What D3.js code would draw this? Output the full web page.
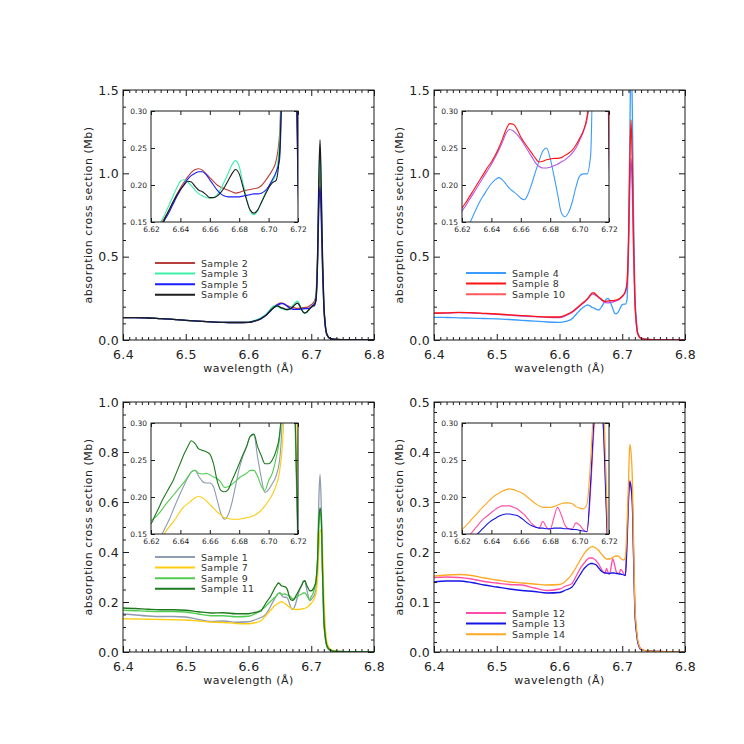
<!DOCTYPE html>
<html>
<head>
<meta charset="utf-8">
<script src="https://cdn.jsdelivr.net/npm/d3@7"></script>
<style>
  body { margin: 0; background: #fff; }
  svg { display: block; }
</style>
</head>
<body>
<div id="chart"></div>
<script>
// ---------------- data ----------------
var wavelength = [6.40, 6.42, 6.44, 6.46, 6.48, 6.50, 6.52, 6.54, 6.56, 6.58, 6.60, 6.61,
  6.6200, 6.6225, 6.6250, 6.6275, 6.6300, 6.6325, 6.6350, 6.6375, 6.6400, 6.6425, 6.6450, 6.6475,
  6.6500, 6.6525, 6.6550, 6.6575, 6.6600, 6.6625, 6.6650, 6.6675, 6.6700, 6.6725, 6.6750, 6.6775,
  6.6800, 6.6825, 6.6850, 6.6875, 6.6900, 6.6925, 6.6950, 6.6975, 6.7000, 6.7025, 6.7050, 6.7075,
  6.7100, 6.7120, 6.7140, 6.7160, 6.7180, 6.7200, 6.7225, 6.7250, 6.7300, 6.7400, 6.7600, 6.8000];

// panel 1
var sample2 = [0.134, 0.134, 0.132, 0.128, 0.124, 0.118, 0.113, 0.109, 0.106, 0.105, 0.106, 0.115,
  0.130, 0.137, 0.143, 0.150, 0.158, 0.167, 0.177, 0.187, 0.196, 0.204, 0.211, 0.217,
  0.221, 0.222, 0.220, 0.215, 0.210, 0.205, 0.200, 0.197, 0.195, 0.193, 0.191, 0.189,
  0.190, 0.192, 0.193, 0.194, 0.195, 0.196, 0.199, 0.205, 0.212, 0.220, 0.232, 0.270,
  0.50, 0.85, 1.02, 0.80, 0.45, 0.21, 0.08, 0.030, 0.010, 0.003, 0.001, 0.000];
var sample3 = [0.134, 0.134, 0.132, 0.128, 0.124, 0.118, 0.113, 0.109, 0.106, 0.105, 0.107, 0.118,
  0.133, 0.140, 0.146, 0.153, 0.163, 0.174, 0.185, 0.196, 0.205, 0.207, 0.204, 0.199,
  0.193, 0.188, 0.185, 0.183, 0.182, 0.183, 0.187, 0.195, 0.205, 0.216, 0.227, 0.233,
  0.225, 0.203, 0.182, 0.165, 0.160, 0.165, 0.176, 0.188, 0.198, 0.205, 0.215, 0.260,
  0.50, 0.92, 1.15, 0.88, 0.48, 0.22, 0.085, 0.033, 0.010, 0.003, 0.001, 0.000];
var sample5 = [0.134, 0.134, 0.132, 0.128, 0.124, 0.118, 0.113, 0.109, 0.106, 0.105, 0.106, 0.114,
  0.128, 0.134, 0.140, 0.147, 0.155, 0.164, 0.174, 0.184, 0.193, 0.201, 0.208, 0.213,
  0.216, 0.218, 0.218, 0.214, 0.207, 0.200, 0.193, 0.188, 0.185, 0.184, 0.184, 0.184,
  0.184, 0.185, 0.186, 0.187, 0.188, 0.188, 0.189, 0.192, 0.198, 0.207, 0.217, 0.235,
  0.45, 0.78, 0.92, 0.72, 0.42, 0.20, 0.075, 0.030, 0.010, 0.003, 0.001, 0.000];
var sample6 = [0.134, 0.134, 0.132, 0.128, 0.124, 0.118, 0.113, 0.109, 0.106, 0.105, 0.106, 0.114,
  0.128, 0.135, 0.141, 0.147, 0.157, 0.167, 0.177, 0.186, 0.194, 0.200, 0.205, 0.204,
  0.198, 0.193, 0.191, 0.187, 0.183, 0.183, 0.185, 0.190, 0.197, 0.206, 0.215, 0.221,
  0.215, 0.198, 0.180, 0.166, 0.162, 0.166, 0.176, 0.186, 0.196, 0.203, 0.206, 0.245,
  0.48, 0.95, 1.20, 0.90, 0.50, 0.23, 0.09, 0.035, 0.010, 0.003, 0.001, 0.000];

// panel 2
var sample4 = [0.136, 0.135, 0.133, 0.131, 0.129, 0.127, 0.123, 0.118, 0.113, 0.108, 0.106, 0.112,
  0.128, 0.137, 0.147, 0.158, 0.169, 0.179, 0.187, 0.195, 0.202, 0.207, 0.210, 0.207,
  0.201, 0.195, 0.191, 0.187, 0.182, 0.180, 0.188, 0.202, 0.218, 0.233, 0.246, 0.250,
  0.236, 0.213, 0.188, 0.163, 0.157, 0.163, 0.177, 0.197, 0.212, 0.215, 0.215, 0.240,
  0.60, 1.20, 1.70, 1.40, 0.75, 0.30, 0.12, 0.040, 0.012, 0.004, 0.001, 0.000];
var sample8 = [0.162, 0.163, 0.166, 0.164, 0.160, 0.156, 0.151, 0.146, 0.142, 0.138, 0.138, 0.150,
  0.169, 0.176, 0.184, 0.192, 0.200, 0.208, 0.216, 0.224, 0.231, 0.240, 0.250, 0.262,
  0.275, 0.283, 0.282, 0.275, 0.265, 0.257, 0.250, 0.243, 0.236, 0.231, 0.232, 0.234,
  0.235, 0.236, 0.236, 0.237, 0.240, 0.243, 0.247, 0.254, 0.263, 0.273, 0.292, 0.340,
  0.60, 1.05, 1.32, 1.05, 0.60, 0.26, 0.10, 0.035, 0.010, 0.003, 0.001, 0.000];
var sample10 = [0.160, 0.161, 0.164, 0.162, 0.158, 0.154, 0.149, 0.144, 0.140, 0.136, 0.135, 0.146,
  0.165, 0.172, 0.180, 0.188, 0.196, 0.204, 0.212, 0.220, 0.228, 0.237, 0.247, 0.258,
  0.270, 0.275, 0.273, 0.268, 0.262, 0.254, 0.246, 0.238, 0.230, 0.225, 0.223, 0.223,
  0.224, 0.226, 0.228, 0.231, 0.234, 0.238, 0.243, 0.250, 0.260, 0.272, 0.288, 0.330,
  0.55, 0.90, 1.09, 0.90, 0.52, 0.24, 0.09, 0.033, 0.010, 0.003, 0.001, 0.000];

// panel 3
var sample1 = [0.153, 0.148, 0.144, 0.142, 0.142, 0.140, 0.130, 0.122, 0.124, 0.119, 0.121, 0.128,
  0.138, 0.141, 0.145, 0.150, 0.160, 0.170, 0.182, 0.194, 0.205, 0.216, 0.226, 0.234,
  0.236, 0.228, 0.221, 0.219, 0.219, 0.214, 0.196, 0.178, 0.170, 0.176, 0.192, 0.215,
  0.238, 0.255, 0.268, 0.282, 0.284, 0.254, 0.226, 0.206, 0.210, 0.218, 0.228, 0.250,
  0.35, 0.60, 0.71, 0.58, 0.30, 0.12, 0.05, 0.020, 0.006, 0.002, 0.001, 0.000];
var sample7 = [0.133, 0.132, 0.131, 0.130, 0.129, 0.128, 0.124, 0.120, 0.118, 0.114, 0.113, 0.117,
  0.125, 0.131, 0.138, 0.145, 0.153, 0.160, 0.166, 0.173, 0.181, 0.187, 0.191, 0.195,
  0.199, 0.201, 0.199, 0.195, 0.190, 0.185, 0.180, 0.176, 0.172, 0.171, 0.170, 0.170,
  0.170, 0.171, 0.172, 0.173, 0.175, 0.178, 0.182, 0.188, 0.195, 0.203, 0.215, 0.235,
  0.29, 0.40, 0.48, 0.49, 0.42, 0.23, 0.10, 0.040, 0.012, 0.003, 0.001, 0.000];
var sample9 = [0.167, 0.165, 0.163, 0.162, 0.162, 0.160, 0.152, 0.145, 0.145, 0.141, 0.143, 0.152,
  0.168, 0.172, 0.177, 0.183, 0.190, 0.196, 0.202, 0.208, 0.214, 0.220, 0.227, 0.234,
  0.236, 0.232, 0.231, 0.232, 0.230, 0.227, 0.225, 0.220, 0.213, 0.214, 0.217, 0.221,
  0.226, 0.229, 0.232, 0.236, 0.236, 0.228, 0.215, 0.209, 0.222, 0.232, 0.252, 0.280,
  0.36, 0.50, 0.56, 0.52, 0.32, 0.14, 0.06, 0.025, 0.008, 0.002, 0.001, 0.000];
var sample11 = [0.176, 0.174, 0.171, 0.169, 0.169, 0.167, 0.161, 0.156, 0.157, 0.153, 0.153, 0.158,
  0.164, 0.174, 0.184, 0.195, 0.204, 0.213, 0.222, 0.234, 0.246, 0.258, 0.268, 0.276,
  0.272, 0.265, 0.263, 0.261, 0.258, 0.245, 0.222, 0.209, 0.207, 0.210, 0.222, 0.233,
  0.245, 0.257, 0.268, 0.282, 0.285, 0.268, 0.256, 0.245, 0.245, 0.250, 0.262, 0.285,
  0.37, 0.52, 0.576, 0.54, 0.32, 0.14, 0.06, 0.025, 0.008, 0.002, 0.001, 0.000];

// panel 4
var sample12 = [0.149, 0.150, 0.149, 0.146, 0.141, 0.138, 0.135, 0.134, 0.128, 0.123, 0.126, 0.132,
  0.137, 0.142, 0.148, 0.154, 0.160, 0.166, 0.171, 0.175, 0.179, 0.183, 0.186, 0.188,
  0.188, 0.188, 0.186, 0.184, 0.180, 0.176, 0.170, 0.164, 0.160, 0.158, 0.167, 0.159,
  0.156, 0.172, 0.186, 0.176, 0.162, 0.157, 0.157, 0.165, 0.162, 0.156, 0.153, 0.210,
  0.30, 0.343, 0.33, 0.30, 0.20, 0.09, 0.045, 0.020, 0.006, 0.002, 0.001, 0.000];
var sample13 = [0.140, 0.142, 0.142, 0.139, 0.134, 0.130, 0.126, 0.123, 0.121, 0.118, 0.119, 0.124,
  0.130, 0.134, 0.139, 0.144, 0.149, 0.154, 0.159, 0.164, 0.168, 0.171, 0.174, 0.176,
  0.177, 0.177, 0.176, 0.175, 0.172, 0.168, 0.164, 0.161, 0.159, 0.158, 0.158, 0.157,
  0.157, 0.158, 0.158, 0.158, 0.157, 0.157, 0.156, 0.156, 0.155, 0.154, 0.153, 0.220,
  0.31, 0.34, 0.33, 0.30, 0.19, 0.085, 0.040, 0.018, 0.005, 0.002, 0.001, 0.000];
var sample14 = [0.152, 0.154, 0.155, 0.153, 0.148, 0.144, 0.140, 0.138, 0.136, 0.134, 0.135, 0.142,
  0.156, 0.161, 0.166, 0.172, 0.177, 0.183, 0.188, 0.193, 0.198, 0.202, 0.205, 0.208,
  0.210, 0.211, 0.210, 0.208, 0.206, 0.203, 0.199, 0.195, 0.191, 0.188, 0.186, 0.186,
  0.186, 0.187, 0.189, 0.191, 0.192, 0.192, 0.191, 0.187, 0.185, 0.184, 0.190, 0.250,
  0.34, 0.415, 0.40, 0.35, 0.23, 0.10, 0.050, 0.022, 0.006, 0.002, 0.001, 0.000];

// tick labels
var xTicks = [6.4, 6.5, 6.6, 6.7, 6.8];
var insetXTicks = [6.62, 6.64, 6.66, 6.68, 6.70, 6.72];
var insetYTicks = [0.15, 0.20, 0.25, 0.30];
var yTicks15 = [0.0, 0.5, 1.0, 1.5];
var yTicks10 = [0.0, 0.2, 0.4, 0.6, 0.8, 1.0];
var yTicks05 = [0.0, 0.1, 0.2, 0.3, 0.4, 0.5];

// ---------------- layout ----------------
var plotW = 251, plotH = 250;
var insetDX = 28, insetDY = 21, insetW = 147, insetH = 111;
var font = "'DejaVu Sans', sans-serif";

var panels = [
  { left: 123, top: 90, yMax: 1.5, yTicks: yTicks15, yMinor: 0.1, legendTop: 173,
    series: [
      { name: "Sample 2", values: sample2, color: "#b8403c" },
      { name: "Sample 3", values: sample3, color: "#3cf0a8" },
      { name: "Sample 5", values: sample5, color: "#1c1cff" },
      { name: "Sample 6", values: sample6, color: "#1c1c1c" }
    ] },
  { left: 434, top: 90, yMax: 1.5, yTicks: yTicks15, yMinor: 0.1, legendTop: 183,
    series: [
      { name: "Sample 4", values: sample4, color: "#3a9cff" },
      { name: "Sample 10", values: sample10, color: "#b455e8", swatch: "#ff5a5a" },
      { name: "Sample 8", values: sample8, color: "#ff1414" }
    ],
    legendOrder: [0, 2, 1] },
  { left: 123, top: 402, yMax: 1.0, yTicks: yTicks10, yMinor: 0.05, legendTop: 155,
    series: [
      { name: "Sample 1", values: sample1, color: "#8e9bb0" },
      { name: "Sample 7", values: sample7, color: "#ffcc10" },
      { name: "Sample 9", values: sample9, color: "#50cc50" },
      { name: "Sample 11", values: sample11, color: "#1c7a1c" }
    ] },
  { left: 434, top: 402, yMax: 0.5, yTicks: yTicks05, yMinor: 0.02, legendTop: 211,
    series: [
      { name: "Sample 12", values: sample12, color: "#ff4ea8" },
      { name: "Sample 13", values: sample13, color: "#1414e6" },
      { name: "Sample 14", values: sample14, color: "#ffa824" }
    ] }
];

var svg = d3.select("#chart").append("svg")
    .attr("width", 744)
    .attr("height", 744);

function steps(a, b, step) {
  var out = [], n = Math.round((b - a) / step);
  for (var i = 0; i <= n; i++) out.push(+(a + i * step).toFixed(4));
  return out;
}

// IDL style box: ticks pointing inwards on all four sides
function drawBox(g, x, y, w, h, o) {
  function style(sel) {
    sel.attr("font-family", font).attr("font-size", o.fontSize).style("color", "#1a1a1a");
    sel.selectAll("text").attr("fill", "#222").attr("letter-spacing", o.spacing || 0);
    sel.select(".domain").remove();
  }
  g.append("g").attr("transform", "translate(0," + h + ")")
    .call(d3.axisBottom(x).tickValues(o.xTicks).tickFormat(o.fmtX)
      .tickSizeInner(-o.major).tickSizeOuter(0).tickPadding(o.padX)).call(style);
  g.append("g")
    .call(d3.axisTop(x).tickValues(o.xTicks).tickFormat("")
      .tickSizeInner(-o.major).tickSizeOuter(0)).call(style);
  g.append("g")
    .call(d3.axisLeft(y).tickValues(o.yTicks).tickFormat(o.fmtY)
      .tickSizeInner(-o.major).tickSizeOuter(0).tickPadding(o.padY)).call(style);
  g.append("g").attr("transform", "translate(" + w + ",0)")
    .call(d3.axisRight(y).tickValues(o.yTicks).tickFormat("")
      .tickSizeInner(-o.major).tickSizeOuter(0)).call(style);

  if (o.xMinor) {
    g.append("g").attr("transform", "translate(0," + h + ")")
      .call(d3.axisBottom(x).tickValues(o.xMinor).tickFormat("").tickSizeInner(-o.minor).tickSizeOuter(0)).call(style);
    g.append("g")
      .call(d3.axisTop(x).tickValues(o.xMinor).tickFormat("").tickSizeInner(-o.minor).tickSizeOuter(0)).call(style);
  }
  if (o.yMinor) {
    g.append("g")
      .call(d3.axisLeft(y).tickValues(o.yMinor).tickFormat("").tickSizeInner(-o.minor).tickSizeOuter(0)).call(style);
    g.append("g").attr("transform", "translate(" + w + ",0)")
      .call(d3.axisRight(y).tickValues(o.yMinor).tickFormat("").tickSizeInner(-o.minor).tickSizeOuter(0)).call(style);
  }

  g.append("rect")
    .attr("width", w).attr("height", h)
    .attr("fill", "none").attr("stroke", "#1a1a1a").attr("stroke-width", 1);
}

var fmt1 = d3.format(".1f"), fmt2 = d3.format(".2f");

panels.forEach(function(p, pi) {
  var g = svg.append("g").attr("transform", "translate(" + p.left + "," + p.top + ")");

  var x = d3.scaleLinear().domain([6.4, 6.8]).range([0, plotW]);
  var y = d3.scaleLinear().domain([0, p.yMax]).range([plotH, 0]);

  var clipId = "clip" + pi;
  g.append("clipPath").attr("id", clipId)
    .append("rect").attr("width", plotW).attr("height", plotH);

  var line = d3.line()
      .x(function(d) { return x(d[0]); })
      .y(function(d) { return y(d[1]); })
      .curve(d3.curveMonotoneX);

  var curves = g.append("g").attr("clip-path", "url(#" + clipId + ")");
  p.series.forEach(function(s) {
    var pts = wavelength.map(function(w, i) { return [w, s.values[i]]; });
    curves.append("path")
      .attr("d", line(pts))
      .attr("fill", "none")
      .attr("stroke", s.color)
      .attr("stroke-width", 1.3)
      .attr("stroke-linejoin", "round");
  });

  var yMinor = steps(0, p.yMax, p.yMinor).filter(function(v) {
    return p.yTicks.every(function(t) { return Math.abs(t - v) > 1e-6; });
  });
  var xMinor = steps(6.4, 6.8, 0.01).filter(function(v) {
    return xTicks.every(function(t) { return Math.abs(t - v) > 1e-6; });
  });

  drawBox(g, x, y, plotW, plotH, {
    xTicks: xTicks, yTicks: p.yTicks, xMinor: xMinor, yMinor: yMinor,
    fmtX: fmt1, fmtY: fmt1, major: 6, minor: 3, padX: 10, padY: 4,
    fontSize: 12.5, spacing: 0.3
  });

  // axis titles
  g.append("text")
    .attr("x", plotW / 2).attr("y", plotH + 32)
    .attr("text-anchor", "middle")
    .attr("font-family", font).attr("font-size", 11).attr("letter-spacing", 0.5)
    .attr("fill", "#222")
    .text("wavelength (Å)");
  g.append("text")
    .attr("transform", "translate(-31," + (plotH / 2) + ") rotate(-90)")
    .attr("text-anchor", "middle")
    .attr("font-family", font).attr("font-size", 11).attr("letter-spacing", 0.5)
    .attr("fill", "#222")
    .text("absorption cross section (Mb)");

  // legend
  var order = p.legendOrder || p.series.map(function(d, i) { return i; });
  var leg = g.append("g").attr("transform", "translate(32," + p.legendTop + ")");
  order.forEach(function(si, k) {
    var s = p.series[si];
    var row = leg.append("g").attr("transform", "translate(0," + (k * 10.6) + ")");
    row.append("line")
      .attr("x1", 0).attr("x2", 40).attr("y1", 0).attr("y2", 0)
      .attr("stroke", s.swatch || s.color).attr("stroke-width", 2);
    row.append("text")
      .attr("x", 46).attr("y", 3.5)
      .attr("font-family", font).attr("font-size", 9.5).attr("letter-spacing", 0.3)
      .attr("fill", "#333")
      .text(s.name);
  });

  // inset
  var ig = g.append("g").attr("transform", "translate(" + insetDX + "," + insetDY + ")");
  var ix = d3.scaleLinear().domain([6.62, 6.72]).range([0, insetW]);
  var iy = d3.scaleLinear().domain([0.15, 0.30]).range([insetH, 0]);

  ig.append("rect").attr("width", insetW).attr("height", insetH).attr("fill", "#fff");
  var iclipId = "iclip" + pi;
  ig.append("clipPath").attr("id", iclipId)
    .append("rect").attr("width", insetW).attr("height", insetH);

  var iline = d3.line()
      .x(function(d) { return ix(d[0]); })
      .y(function(d) { return iy(d[1]); })
      .curve(d3.curveMonotoneX);

  var icurves = ig.append("g").attr("clip-path", "url(#" + iclipId + ")");
  p.series.forEach(function(s) {
    var pts = wavelength.map(function(w, i) { return [w, s.values[i]]; });
    icurves.append("path")
      .attr("d", iline(pts))
      .attr("fill", "none")
      .attr("stroke", s.color)
      .attr("stroke-width", 1.1)
      .attr("stroke-linejoin", "round");
  });

  drawBox(ig, ix, iy, insetW, insetH, {
    xTicks: insetXTicks, yTicks: insetYTicks,
    fmtX: fmt2, fmtY: fmt2, major: 4, minor: 2, padX: 5, padY: 4, fontSize: 7.5
  });
});
</script>
</body>
</html>
